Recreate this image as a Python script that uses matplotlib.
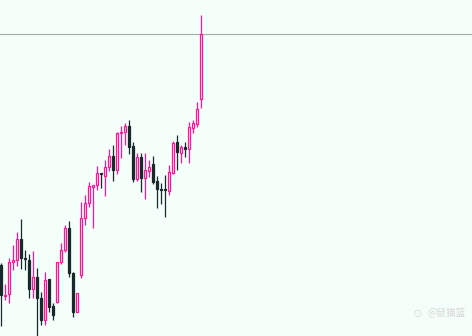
import matplotlib
matplotlib.use("Agg")
import matplotlib.pyplot as plt
import numpy as np

plt.rcParams['font.family'] = ['Noto Sans CJK SC', 'DejaVu Sans']

# OHLC values (price units)
opens  = [71, 40, 42, 74, 76, 97, 78, 76, 47, 59, 38, 16, 57, 30, 34, 74, 86, 108, 63, 24,
          61, 118, 133, 149, 151, 163, 160, 169, 180, 166, 203, 204, 210, 190, 157, 179, 158, 165, 172, 155,
          147, 147, 145, 163, 194, 183, 189, 187, 208, 212, 237]
closes = [41, 40, 74, 76, 97, 78, 77, 47, 59, 38, 16, 56, 29, 21, 74, 86, 108, 63, 24, 43,
          118, 133, 150, 151, 163, 162, 169, 180, 166, 203, 204, 210, 189, 157, 179, 158, 166, 169, 154, 147,
          146, 146, 164, 193, 184, 189, 187, 209, 213, 227, 302]
highs  = [73, 52, 78, 91, 104, 117, 86, 82, 85, 68, 44, 64, 57, 33, 74, 93, 111, 115, 64, 43,
          134, 141, 154, 151, 170, 163, 176, 187, 191, 204, 210, 213, 216, 194, 183, 183, 183, 176, 180, 160,
          153, 161, 171, 195, 201, 191, 194, 214, 216, 234, 321]
lows   = [10, 36, 33, 66, 70, 67, 66, 38, 38, -2, 11, 11, 24, 16, 33, 72, 84, 59, 19, 24,
          58, 111, 129, 108, 146, 148, 140, 165, 155, 162, 178, 191, 182, 154, 155, 144, 137, 159, 152, 128,
          132, 119, 141, 162, 166, 173, 179, 173, 203, 209, 228]
last_price = 302
watermark = "@鼠猫篮"

bg = "#f5fffa"
pink = "#ff1493"
dark = "#17292b"

fig = plt.figure(figsize=(4.72, 3.36), dpi=100, facecolor=bg)
ax = fig.add_axes([0, 0, 1, 1], facecolor=bg)

x = np.arange(len(opens))
o = np.array(opens, float); c = np.array(closes, float)
h = np.array(highs, float); l = np.array(lows, float)
up = c >= o
colors = np.where(up, pink, dark)

ax.vlines(x, l, h, colors=colors, linewidth=0.9, zorder=1)
bottom = np.minimum(o, c)
height = np.maximum(np.abs(c - o), 0.6)
ax.bar(x[up], height[up], bottom=bottom[up], width=0.5, facecolor=bg,
       edgecolor=pink, linewidth=0.9, zorder=2)
ax.bar(x[~up], height[~up], bottom=bottom[~up], width=0.5, facecolor=dark,
       edgecolor=dark, linewidth=0.9, zorder=2)

ax.axhline(last_price, color="#aaaaaa", linewidth=0.8, zorder=0)

ax.set_xlim(-0.25, 117.75)
ax.set_ylim(0, 336)
ax.axis('off')

fig.text(0.905, 0.068, watermark, color="#d6d6d6", fontsize=7, ha='left', va='center')
fig.text(0.875, 0.068, "⊙", color="#d6d6d6", fontsize=7, ha='left', va='center')

fig.savefig("out.png", dpi=100, facecolor=bg)
